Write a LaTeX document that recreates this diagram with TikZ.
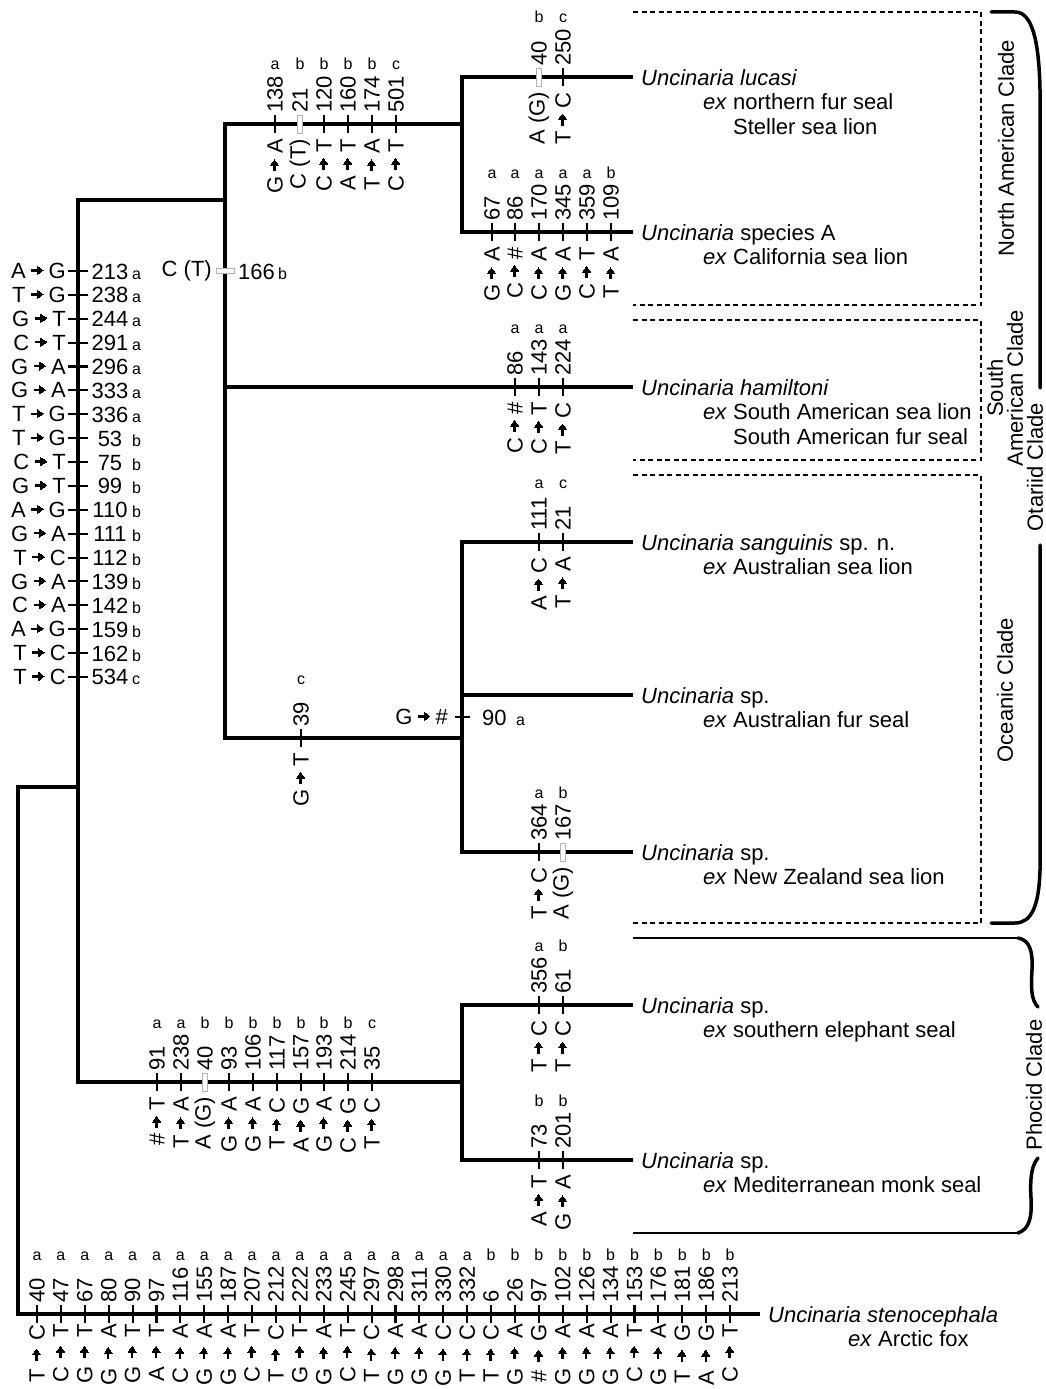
\documentclass[tikz,border=0pt]{standalone}
\usepackage{fontspec}
\setmainfont{Liberation Sans}
\newcounter{mc}
% arrow built from rules: shaft + stepped triangle head
\newcommand\arhead{\rule[3.5pt]{0.65pt}{9pt}\rule[3.95pt]{0.65pt}{8.1pt}\rule[4.4pt]{0.65pt}{7.2pt}\rule[4.85pt]{0.65pt}{6.3pt}\rule[5.3pt]{0.65pt}{5.4pt}\rule[5.75pt]{0.65pt}{4.5pt}\rule[6.2pt]{0.65pt}{3.6pt}\rule[6.65pt]{0.65pt}{2.7pt}\rule[7.1pt]{0.65pt}{1.8pt}\rule[7.55pt]{0.65pt}{0.9pt}}
\newcommand\arsp{5.5pt}
\newcommand\ar{\hspace{\arsp}\rule[6.8pt]{5.5pt}{2.4pt}\arhead\hspace{\arsp}}
\newcommand\lo{15}
\tikzset{
 br/.style={line width=3.4pt, line join=miter},
 tk/.style={line width=2.1pt},
 gtk/.style={line width=0.9pt, draw=black!30, fill=white},
 lab/.style={font=\fontsize{22}{26}\selectfont, inner sep=0pt},
 sup/.style={font=\fontsize{16}{18}\selectfont, inner sep=0pt},
 dsh/.style={line width=1.2pt, dash pattern=on 5pt off 3.5pt},
 brace/.style={line width=3.5pt, line cap=round},
 thinln/.style={line width=1.3pt},
 clade/.style={font=\fontsize{22}{20}\selectfont, rotate=90, inner sep=0pt},
 tax/.style={font=\fontsize{22}{26}\selectfont, inner sep=0pt, anchor=base west},
}
% vertical tick mutation on a horizontal branch
\newcommand\mv[5]{\stepcounter{mc}%
 \draw[tk] (#1,#2-9) -- (#1,#2+9);
 \node[lab,rotate=90,anchor=east] (d\themc) at (#1,#2+\lo) {#3};
 \node[lab,rotate=90,anchor=west] (u\themc) at (#1,#2-11) {#4};
 \node[sup,anchor=base] (s\themc) at (#1,#2-54) {#5};}
\newcommand\mg[5]{\stepcounter{mc}%
 \draw[gtk] (#1-2.5,#2-9) rectangle (#1+2.5,#2+9);
 \node[lab,rotate=90,anchor=east] (d\themc) at (#1,#2+\lo) {#3};
 \node[lab,rotate=90,anchor=west] (u\themc) at (#1,#2-11) {#4};
 \node[sup,anchor=base] (s\themc) at (#1,#2-54) {#5};}
% horizontal tick mutation on the left vertical branch
\newcommand\mh[4]{\stepcounter{mc}%
 \draw[tk] (68,#1) -- (88,#1);
 \node[lab,anchor=east] (d\themc) at (66,#1) {#2};
 \node[lab,anchor=base] (u\themc) at (110,#1+8) {#3};
 \node[sup,anchor=base west] (s\themc) at (132,#1+8) {#4};}
\begin{document}
\begin{tikzpicture}[x=1pt,y=-1pt]
\useasboundingbox (0,0) rectangle (1046,1389);
\fill[white] (0,0) rectangle (1046,1389);
% coordinates
\coordinate (R0) at (18,787);
\coordinate (A0) at (78,787);
\coordinate (At) at (78,200);
\coordinate (A1) at (78,1082);
\coordinate (B0) at (225,200);
\coordinate (Bt) at (225,124);
\coordinate (Bm) at (225,387);
\coordinate (Bb) at (225,738);
\coordinate (NA) at (462,124);
\coordinate (OC) at (462,738);
\coordinate (PH) at (462,1082);
\coordinate (Lluc) at (633,77);
\coordinate (LspA) at (633,232);
\coordinate (Lham) at (633,387);
\coordinate (Lsan) at (633,542);
\coordinate (Lafs) at (633,695);
\coordinate (Lnz) at (633,852);
\coordinate (Lele) at (633,1005);
\coordinate (Lmon) at (633,1160);
\coordinate (Lste) at (760,1314);
% branches
\draw[br] (Lluc) -| (NA) |- (LspA);
\draw[br] (NA) -- (Bt) -- (Bb) -- (OC);
\draw[br] (Bm) -- (Lham);
\draw[br] (Lsan) -| (OC) |- (Lnz);
\draw[br] (OC |- Lafs) -- (Lafs);
\draw[br] (Lele) -| (PH) |- (Lmon);
\draw[br] (B0) -- (At) -- (A1) -- (PH);
\draw[br] (A0) -- (R0) -- (R0 |- Lste) -- (Lste);
% left column
\foreach \mA/\mB/\mC [count=\i from 0] in {A\ar G/213/a, T\ar G/238/a, G\ar T/244/a, C\ar T/291/a, G\ar A/296/a, G\ar A/333/a, T\ar G/336/a, T\ar G/53/b, C\ar T/75/b, G\ar T/99/b, A\ar G/110/b, G\ar A/111/b, T\ar C/112/b, G\ar A/139/b, C\ar A/142/b, A\ar G/159/b, T\ar C/162/b, T\ar C/534/c}
 {\pgfmathsetmacro\yy{271+\i*23.88}\mh{\yy}{\mA}{\mB}{\mC}}
% C (T) 166 on B
\draw[gtk] (216,268.5) rectangle (234,273.5);
\node[lab,anchor=east] (ct166) at (212,271) {C (T)};
\node[lab,anchor=base west] (n166) at (238,279) {166};
\node[sup,anchor=base west] (l166) at (278,279) {b};
% top branch
\mv{275}{124}{G\ar A}{138}{a}
\mg{300}{124}{C (T)}{21}{b}
\mv{324}{124}{C\ar T}{120}{b}
\mv{348}{124}{A\ar T}{160}{b}
\mv{372}{124}{T\ar A}{174}{b}
\mv{396}{124}{C\ar T}{501}{c}
% lucasi
\mg{539}{77}{A (G)}{40}{b}
\mv{563}{77}{T\ar C}{250}{c}
% species A
\mv{492}{232}{G\ar A}{67}{a}
\mv{515}{232}{C\ar \#}{86}{a}
\mv{539}{232}{C\ar A}{170}{a}
\mv{563}{232}{G\ar A}{345}{a}
\mv{587}{232}{C\ar T}{359}{a}
\mv{611}{232}{T\ar A}{109}{b}
% hamiltoni
\mv{515}{387}{C\ar \#}{86}{a}
\mv{539}{387}{C\ar T}{143}{a}
\mv{563}{387}{T\ar C}{224}{a}
% sanguinis
\mv{539}{542}{A\ar C}{111}{a}
\mv{563}{542}{T\ar A}{21}{c}
% oceanic stem
\mv{301}{738}{G\ar T}{39}{c}
% G -> # 90 on oceanic vertical
\draw[tk] (455,717) -- (470,717);
\node[lab,anchor=east] (g90) at (448,717) {G\ar \#};
\node[lab,anchor=base west] (n90) at (482,725) {90};
\node[sup,anchor=base west] (l90) at (516,725) {a};
% NZ
\mv{539}{852}{T\ar C}{364}{a}
\mg{563}{852}{A (G)}{167}{b}
% phocid stem
\mv{157}{1082}{\#\ar T}{91}{a}
\mv{181}{1082}{T\ar A}{238}{a}
\mg{205}{1082}{A (G)}{40}{b}
\mv{229}{1082}{G\ar A}{93}{b}
\mv{253}{1082}{G\ar A}{106}{b}
\mv{277}{1082}{T\ar C}{117}{b}
\mv{301}{1082}{A\ar G}{157}{b}
\mv{324}{1082}{G\ar A}{193}{b}
\mv{348}{1082}{C\ar G}{214}{b}
\mv{372}{1082}{T\ar C}{35}{c}
% elephant seal
\mv{539}{1005}{T\ar C}{356}{a}
\mv{563}{1005}{T\ar C}{61}{b}
% monk seal
\mv{539}{1160}{A\ar T}{73}{b}
\mv{563}{1160}{G\ar A}{201}{b}
% outgroup (slightly wider spacing)
\begin{scope}
\renewcommand\arsp{8.5pt}
\renewcommand\lo{10}
\foreach \mA/\mB/\mC [count=\i from 0] in {T\ar C/40/a, C\ar T/47/a, G\ar T/67/a, G\ar A/80/a, G\ar T/90/a, A\ar T/97/a, C\ar A/116/a, G\ar A/155/a, G\ar A/187/a, C\ar T/207/a, T\ar C/212/a, G\ar T/222/a, G\ar A/233/a, C\ar T/245/a, T\ar C/297/a, G\ar A/298/a, G\ar A/311/a, G\ar C/330/a, T\ar C/332/a, T\ar C/6/b, G\ar A/26/b, \#\ar G/97/b, G\ar A/102/b, G\ar A/126/b, G\ar A/134/b, C\ar T/153/b, G\ar A/176/b, T\ar G/181/b, A\ar G/186/b, C\ar T/213/b}
 {\pgfmathsetmacro\xx{37+\i*23.9}\mv{\xx}{1314}{\mA}{\mB}{\mC}}
\end{scope}
% taxa
\node[tax] (tLuc) at (641,85) {\textit{Uncinaria lucasi}};
\node[tax] (tLuc2) at (703,109) {\textit{ex} northern fur seal};
\node[tax] (tLuc3) at (733,134) {Steller sea lion};
\node[tax] (tSpA) at (641,240) {\textit{Uncinaria} species A};
\node[tax] (tSpA2) at (703,264) {\textit{ex} California sea lion};
\node[tax] (tHam) at (641,395) {\textit{Uncinaria hamiltoni}};
\node[tax] (tHam2) at (703,419) {\textit{ex} South American sea lion};
\node[tax] (tHam3) at (733,444) {South American fur seal};
\node[tax] (tSan) at (641,550) {\textit{Uncinaria sanguinis} sp. n.};
\node[tax] (tSan2) at (703,574) {\textit{ex} Australian sea lion};
\node[tax] (tAfs) at (641,703) {\textit{Uncinaria} sp.};
\node[tax] (tAfs2) at (703,727) {\textit{ex} Australian fur seal};
\node[tax] (tNz) at (641,860) {\textit{Uncinaria} sp.};
\node[tax] (tNz2) at (703,884) {\textit{ex} New Zealand sea lion};
\node[tax] (tEle) at (641,1013) {\textit{Uncinaria} sp.};
\node[tax] (tEle2) at (703,1037) {\textit{ex} southern elephant seal};
\node[tax] (tMon) at (641,1168) {\textit{Uncinaria} sp.};
\node[tax] (tMon2) at (703,1192) {\textit{ex} Mediterranean monk seal};
\node[tax] (tSte) at (768,1322) {\textit{Uncinaria stenocephala}};
\node[tax] (tSte2) at (848,1346) {\textit{ex} Arctic fox};
% dashed clade boxes
\draw[dsh] (633,12) -- (981,12) -- (981,305) -- (633,305);
\draw[dsh] (633,320) -- (981,320) -- (981,460) -- (633,460);
\draw[dsh] (633,475) -- (981,475) -- (981,923) -- (633,923);
% otariid brace
\draw[brace] (991,12) -- (1015,12) .. controls (1032,12) and (1039,40) .. (1040,90) -- (1040,388);
\draw[brace] (1040,545) -- (1040,870) .. controls (1039,905) and (1032,923) .. (1015,923) -- (991,923);
% phocid brace
\draw[thinln] (633,938) -- (1020,938);
\draw[thinln] (633,1233) -- (1020,1233);
\draw[brace] (1018,938) .. controls (1030,940) and (1033,952) .. (1032,970) .. controls (1031,988) and (1031,1000) .. (1038,1007);
\draw[brace] (1038,1158) .. controls (1031,1166) and (1030,1180) .. (1031,1198) .. controls (1032,1216) and (1030,1229) .. (1018,1233);
% clade labels
\node[clade] (cNA) at (1006,148) {North American Clade};
\node[clade,align=center] (cSA) at (1005,388) {South\\American Clade};
\node[clade] (cOt) at (1035,467) {Otariid Clade};
\node[clade] (cOc) at (1005,690) {Oceanic Clade};
\node[clade] (cPh) at (1034,1085) {Phocid Clade};
\end{tikzpicture}
\end{document}
